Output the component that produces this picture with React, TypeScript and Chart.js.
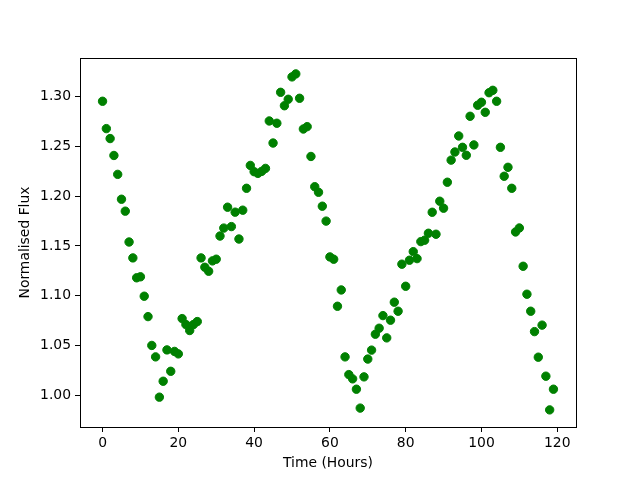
import React, { useEffect, useRef } from "react";
import { Chart, registerables } from "chart.js";

Chart.register(...registerables);

const hours: number[] = [
  0, 1, 2, 3, 4, 5, 6, 7, 8, 9, 10, 11, 12, 13, 14, 15, 16, 17, 18, 19,
  20, 21, 22, 23, 24, 25, 26, 27, 28, 29, 30, 31, 32, 33, 34, 35, 36, 37, 38, 39,
  40, 41, 42, 43, 44, 45, 46, 47, 48, 49, 50, 51, 52, 53, 54, 55, 56, 57, 58, 59,
  60, 61, 62, 63, 64, 65, 66, 67, 68, 69, 70, 71, 72, 73, 74, 75, 76, 77, 78, 79,
  80, 81, 82, 83, 84, 85, 86, 87, 88, 89, 90, 91, 92, 93, 94, 95, 96, 97, 98, 99,
  100, 101, 102, 103, 104, 105, 106, 107, 108, 109, 110, 111, 112, 113, 114, 115, 116, 117, 118, 119,
];

const flux: number[] = [
  1.2955, 1.268, 1.258, 1.241, 1.222, 1.197, 1.185, 1.154, 1.138, 1.118,
  1.119, 1.0995, 1.079, 1.05, 1.0385, 0.998, 1.014, 1.0455, 1.024, 1.044,
  1.0415, 1.077, 1.071, 1.065, 1.071, 1.074, 1.138, 1.1286, 1.1246, 1.135,
  1.1367, 1.16, 1.168, 1.189, 1.1695, 1.184, 1.157, 1.186, 1.208, 1.231,
  1.2247, 1.223, 1.225, 1.228, 1.2757, 1.2535, 1.2734, 1.3045, 1.291, 1.2975,
  1.32, 1.323, 1.2985, 1.2676, 1.27, 1.24, 1.2096, 1.204, 1.19, 1.175,
  1.139, 1.1367, 1.0894, 1.1058, 1.0385, 1.0207, 1.0164, 1.006, 0.987, 1.0184,
  1.0363, 1.0453, 1.0613, 1.0673, 1.08, 1.0576, 1.0754, 1.0935, 1.0844, 1.1317,
  1.1095, 1.1357, 1.1443, 1.1373, 1.1544, 1.1558, 1.1628, 1.1839, 1.1618, 1.195,
  1.188, 1.2141, 1.2363, 1.2445, 1.2606, 1.2492, 1.2412, 1.2804, 1.2516, 1.2915,
  1.2945, 1.2844, 1.3041, 1.3065, 1.2955, 1.2492, 1.2201, 1.2291, 1.208, 1.1641,
  1.1681, 1.1296, 1.1015, 1.0844, 1.0639, 1.0382, 1.0704, 1.0191, 0.9852, 1.006,
];

const xTicks: number[] = [0, 20, 40, 60, 80, 100, 120];
const yTicks: number[] = [1.0, 1.05, 1.1, 1.15, 1.2, 1.25, 1.3];

const xLabel = "Time (Hours)";
const yLabel = "Normalised Flux";

const FONT = "'DejaVu Sans', sans-serif";

const frame = {
  id: "frame",
  afterDraw(chart: any) {
    const { ctx, chartArea } = chart;
    ctx.save();
    ctx.strokeStyle = "#000";
    ctx.lineWidth = 1;
    ctx.strokeRect(
      Math.round(chartArea.left) + 0.5,
      Math.round(chartArea.top) + 0.5,
      Math.round(chartArea.right - chartArea.left),
      Math.round(chartArea.bottom - chartArea.top)
    );
    ctx.restore();
  },
};

export default function App() {
  const ref = useRef<HTMLCanvasElement>(null);

  useEffect(() => {
    if (!ref.current) return;
    const data = hours.map((h, i) => ({ x: h, y: flux[i] }));
    const chart = new Chart(ref.current, {
      type: "scatter",
      data: {
        datasets: [
          {
            data,
            backgroundColor: "#008000",
            borderColor: "#008000",
            borderWidth: 1,
            pointRadius: 4.2,
            pointHoverRadius: 4.2,
          },
        ],
      },
      options: {
        animation: false,
        responsive: false,
        events: [],
        layout: { padding: { top: 58, right: 64, left: 0, bottom: 0 } },
        plugins: { legend: { display: false }, tooltip: { enabled: false } },
        scales: {
          x: {
            type: "linear",
            min: -5.95,
            max: 124.95,
            afterBuildTicks: (s: any) => {
              s.ticks = xTicks.map((v) => ({ value: v }));
            },
            afterFit: (s: any) => {
              s.height = 53;
            },
            grid: {
              drawOnChartArea: false,
              drawTicks: true,
              tickLength: 5,
              color: "#000",
            },
            border: { display: true, color: "#000", width: 1 },
            ticks: {
              color: "#000",
              padding: 3,
              maxRotation: 0,
              font: { family: FONT, size: 13.9 },
              callback: (v: any) => String(v),
            },
            title: {
              display: true,
              text: xLabel,
              color: "#000",
              font: { family: FONT, size: 13.9 },
              padding: { top: 0, bottom: 8 },
            },
          },
          y: {
            type: "linear",
            min: 0.968,
            max: 1.339,
            afterBuildTicks: (s: any) => {
              s.ticks = yTicks.map((v) => ({ value: v }));
            },
            afterFit: (s: any) => {
              s.width = 80;
            },
            grid: {
              drawOnChartArea: false,
              drawTicks: true,
              tickLength: 5,
              color: "#000",
            },
            border: { display: true, color: "#000", width: 1 },
            ticks: {
              color: "#000",
              padding: 4,
              font: { family: FONT, size: 13.9 },
              callback: (v: any) => Number(v).toFixed(2),
            },
            title: {
              display: true,
              text: yLabel,
              color: "#000",
              font: { family: FONT, size: 13.9 },
              padding: { top: 17, bottom: 0 },
            },
          },
        },
      },
      plugins: [frame],
    });
    return () => chart.destroy();
  }, []);

  return (
    <div
      style={{
        position: "fixed",
        left: 0,
        top: 0,
        width: 640,
        height: 480,
        background: "#fff",
      }}
    >
      <canvas ref={ref} width={640} height={480} />
    </div>
  );
}
